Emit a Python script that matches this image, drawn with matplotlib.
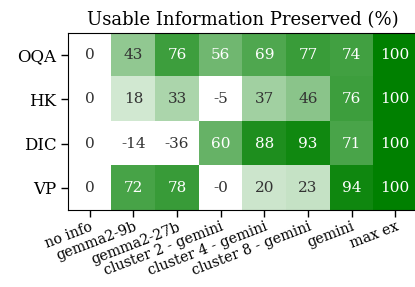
import numpy as np
import matplotlib
matplotlib.use('Agg')
import matplotlib.pyplot as plt
from matplotlib.colors import LinearSegmentedColormap

plt.rcParams['font.family'] = 'DejaVu Serif'

rows = ['OQA', 'HK', 'DIC', 'VP']
cols = ['no info', 'gemma2-9b', 'gemma2-27b', 'cluster 2 - gemini',
        'cluster 4 - gemini', 'cluster 8 - gemini', 'gemini', 'max ex']
oqa = [0, 43, 76, 56, 69, 77, 74, 100]
hk = [0, 18, 33, -5, 37, 46, 76, 100]
dic = [0, -14, -36, 60, 88, 93, 71, 100]
vp = [0, 72, 78, -0, 20, 23, 94, 100]
labels_vp = ['0', '72', '78', '-0', '20', '23', '94', '100']

data = np.array([oqa, hk, dic, vp], dtype=float)
cmap = LinearSegmentedColormap.from_list('wg', ['white', '#008000'])

fig = plt.figure(figsize=(4.15, 2.87), dpi=100)
ax = fig.add_axes([68/415, 1 - 210/287, 349/415, 177/287])
ax.imshow(np.clip(data, 0, 100), cmap=cmap, vmin=0, vmax=100, aspect='auto')

for i in range(data.shape[0]):
    for j in range(data.shape[1]):
        v = data[i, j]
        txt = labels_vp[j] if i == 3 else '%d' % v
        c = 'white' if v >= 50 else '#333333'
        ax.text(j, i, txt, ha='center', va='center', color=c, fontsize=11)

ax.set_xticks(range(len(cols)))
ax.set_xticklabels(cols, rotation=21, ha='right', rotation_mode='anchor', fontsize=10.3)
ax.set_yticks(range(len(rows)))
ax.set_yticklabels(rows, fontsize=12)
ax.tick_params(length=5, width=1)
ax.tick_params(axis='x', pad=2)
ax.spines['right'].set_visible(False)
ax.set_title('Usable Information Preserved (%)', fontsize=13, pad=6)

fig.savefig('out.png', dpi=100)
